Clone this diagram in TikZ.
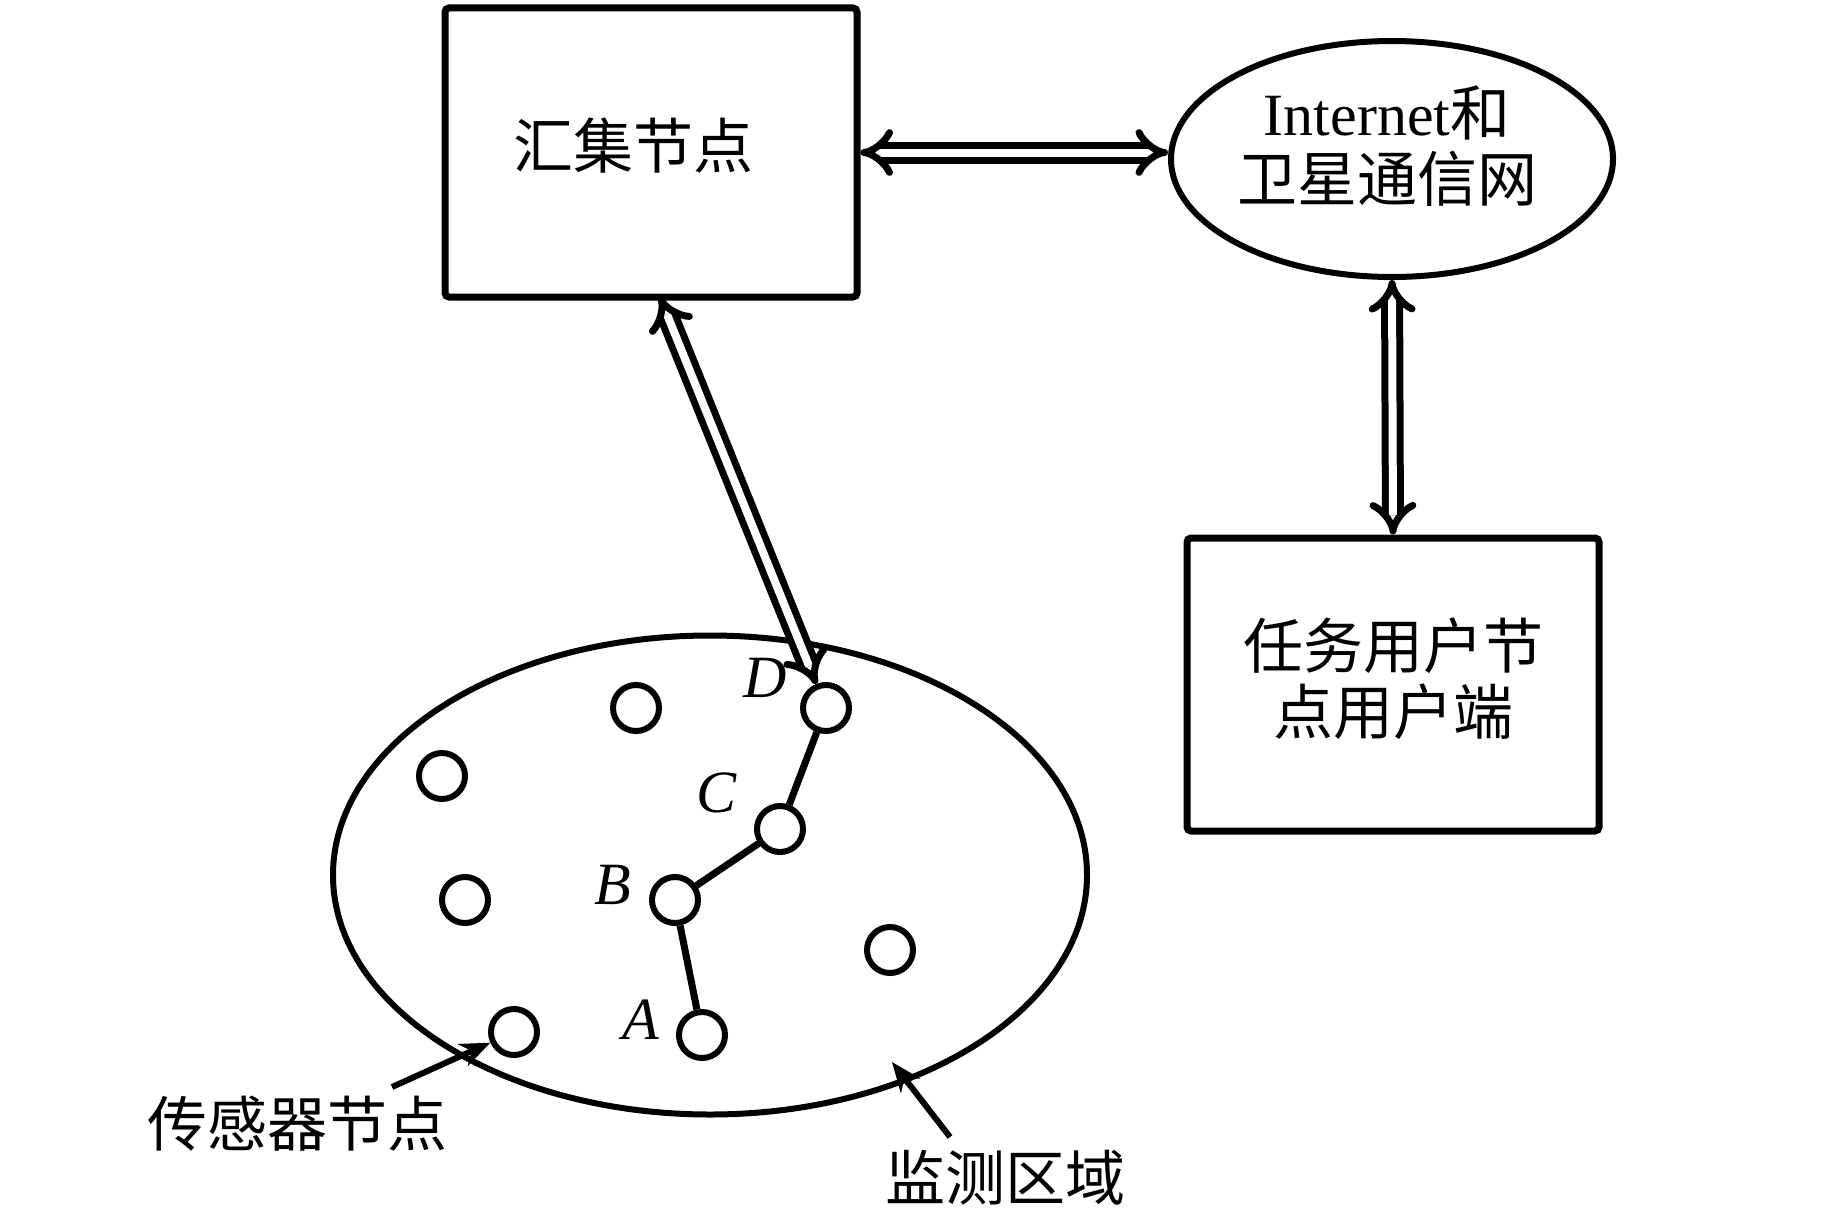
\documentclass[tikz,border=0pt]{standalone}
\usepackage{fontspec}
\setmainfont{Liberation Serif}
\newfontfamily\cjk{Noto Sans CJK SC}
\usetikzlibrary{arrows.meta,shapes.geometric}
\begin{document}
\begin{tikzpicture}[x=1pt,y=-1pt,
  box/.style={draw,line width=7pt,rounded corners=4pt,inner sep=0pt},
  oval/.style={draw,ellipse,line width=6pt,inner sep=0pt},
  sensor/.style={draw,circle,line width=6pt,minimum size=46pt,inner sep=0pt},
  lbl/.style={font=\cjk\fontsize{60}{66}\selectfont,inner sep=0pt,align=center},
  letter/.style={font=\fontsize{60}{60}\selectfont\itshape,inner sep=0pt},
  dbl/.style={double,double distance=8pt,line width=7pt,{Implies[scale=1.2]}-{Implies[scale=1.2]}},
  chainline/.style={line width=7pt},
  ann/.style={line width=6pt,-{Stealth[length=30pt,width=24pt]}}
]
\fill[white] (0,0) rectangle (1843,1228);
\useasboundingbox (0,0) rectangle (1843,1228);

% main blocks
\node[box,minimum width=412pt,minimum height=289pt] (sink) at (651,152.5) {};
\node[lbl] (sinklbl) at (633,146) {汇集节点};
\node[oval,minimum width=442pt,minimum height=236pt] (inet) at (1392,159) {};
\node[lbl] (inetlbl) at (1387,146) {{\rmfamily Internet}和\\卫星通信网};
\node[box,minimum width=412pt,minimum height=293pt] (task) at (1393,684.5) {};
\node[lbl] (tasklbl) at (1393,679) {任务用户节\\点用户端};

% monitoring field
\node[oval,minimum width=754pt,minimum height=479pt] (field) at (710,875) {};

% sensor nodes
\node[sensor] (s1) at (636,708) {};
\node[sensor] (s2) at (442,776) {};
\node[sensor] (s3) at (465,900) {};
\node[sensor] (s4) at (514,1032) {};
\node[sensor] (s5) at (890,950) {};
\node[sensor] (D) at (826,708) {};
\node[sensor] (C) at (780,829) {};
\node[sensor] (B) at (675,900) {};
\node[sensor] (A) at (702,1035) {};

\node[letter] (lD) at (765,678) {D};
\node[letter] (lC) at (716,793) {C};
\node[letter] (lB) at (613,885) {B};
\node[letter] (lA) at (641,1020) {A};

% route
\draw[chainline] (A) -- (B);
\draw[chainline] (B) -- (C);
\draw[chainline] (C) -- (D);

% double arrows
\coordinate (sinkport) at (660,297);
\draw[dbl] (sinkport) -- (D);
\draw[dbl] (sink.east) -- (sink.east -| inet.west);
\draw[dbl] (inet.south) -- (task.north);

% annotations
\node[lbl] (senslbl) at (297,1124) {传感器节点};
\node[lbl] (fieldlbl) at (1005,1178) {监测区域};
\coordinate (sensTail) at (392,1087);
\draw[ann] (sensTail) -- (s4);
\coordinate (fieldTail) at (950,1137);
\coordinate (fieldTip) at (892,1062);
\draw[ann] (fieldTail) -- (fieldTip);
\end{tikzpicture}
\end{document}
